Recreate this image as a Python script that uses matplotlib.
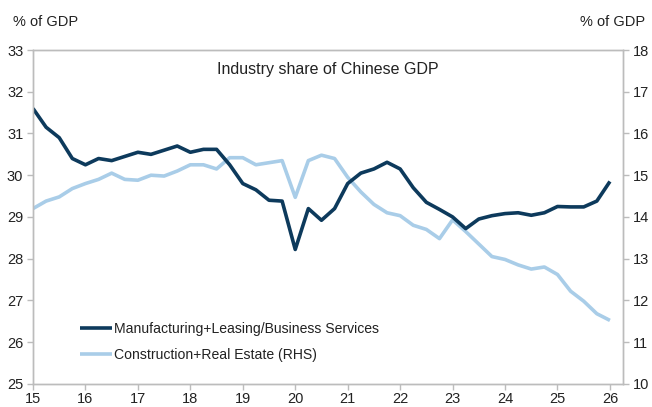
import numpy as np
import matplotlib
matplotlib.use("Agg")
import matplotlib.pyplot as plt

plt.rcParams['font.family'] = ['Liberation Sans', 'DejaVu Sans']

# quarterly, 2015Q1 .. 2026Q1
quarters = [15 + i * 0.25 for i in range(45)]

manuf = [31.6, 31.15, 30.9, 30.4, 30.25, 30.4, 30.35, 30.45,
         30.55, 30.5, 30.6, 30.7, 30.55, 30.62, 30.62, 30.25,
         29.8, 29.65, 29.4, 29.38, 28.22, 29.2, 28.92, 29.2,
         29.8, 30.05, 30.15, 30.31, 30.15, 29.7, 29.35, 29.18,
         29.0, 28.72, 28.95, 29.03, 29.08, 29.1, 29.04, 29.1,
         29.25, 29.24, 29.24, 29.38, 29.85]

constr = [14.2, 14.38, 14.48, 14.68, 14.8, 14.9, 15.05, 14.9,
          14.88, 15.0, 14.98, 15.1, 15.25, 15.25, 15.15, 15.42,
          15.42, 15.25, 15.3, 15.35, 14.47, 15.35, 15.48, 15.4,
          14.95, 14.6, 14.3, 14.1, 14.03, 13.8, 13.7, 13.48,
          13.93, 13.65, 13.35, 13.05, 12.98, 12.85, 12.75, 12.8,
          12.62, 12.22, 11.98, 11.68, 11.52]

xticks = list(range(15, 27))
dark = '#0d3a5c'
light = '#a9cde8'
grey = '#bcbcbc'
txt = '#222222'

fig = plt.figure(figsize=(6.52, 4.07), dpi=100)
ax = fig.add_axes([0.0506, 0.057, 0.905, 0.82])
ax2 = ax.twinx()

l2, = ax2.plot(quarters, constr, color=light, lw=2.6, solid_capstyle='butt',
               label='Construction+Real Estate (RHS)')
l1, = ax.plot(quarters, manuf, color=dark, lw=2.6, solid_capstyle='butt',
              label='Manufacturing+Leasing/Business Services')
ax.set_zorder(ax2.get_zorder() + 1)
ax.patch.set_visible(False)

ax.set_xlim(15, 26.25)
ax.set_ylim(25, 33)
ax2.set_ylim(10, 18)
ax.set_xticks(xticks)
ax.set_xticklabels([str(t) for t in xticks])
ax.set_yticks(range(25, 34))
ax2.set_yticks(range(10, 19))

for a in (ax, ax2):
    for s in a.spines.values():
        s.set_color(grey)
        s.set_linewidth(1.0)
    a.tick_params(colors=grey, labelcolor=txt, labelsize=10.5, length=4, width=1.0, pad=3)
ax.tick_params(axis='x', pad=2)

ax.text(0.5, 0.965, 'Industry share of Chinese GDP', transform=ax.transAxes,
        ha='center', va='top', fontsize=11.5, color=txt)
fig.text(0.02, 0.945, '% of GDP', ha='left', va='center', fontsize=10.5, color=txt)
fig.text(0.99, 0.945, '% of GDP', ha='right', va='center', fontsize=10.5, color=txt)

leg = ax.legend(handles=[l1, l2], loc='lower left', bbox_to_anchor=(0.07, 0.05),
                frameon=False, fontsize=10.1, handlelength=2.3, handletextpad=0.1,
                labelspacing=0.85, borderaxespad=0)
for t in leg.get_texts():
    t.set_color(txt)

fig.savefig('out.png', dpi=100)
